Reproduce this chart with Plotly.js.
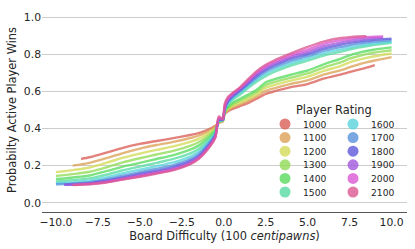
<!DOCTYPE html>
<html><head><meta charset="utf-8">
<script src="https://cdn.plot.ly/plotly-3.0.1.min.js"></script>
<style>html,body{margin:0;padding:0;background:#fff}</style>
</head><body><div id="chart" style="width:415px;height:249px"></div>
<script>
const ratings = [1000,1100,1200,1300,1400,1500,1600,1700,1800,1900,2000,2100];
const boardDifficulty = [-10,-9.5,-9,-8.5,-8,-7,-6,-5,-4,-3,-2,-1.5,-1,-0.5,-0.3,-0.05,0.05,0.25,0.5,1,1.5,2,2.5,3,4,5,6,7,7.5,8,8.5,9,9.5,10];
const win1000 = [null,null,null,.236,.245,.270,.296,.317,.333,.348,.365,.375,.392,.415,.430,.440,.478,.493,.505,.522,.540,.563,.587,.600,.623,.640,.670,.692,.705,.716,.728,.742,null,null];
const win1100 = [null,null,.200,.207,.215,.240,.268,.292,.311,.328,.349,.362,.382,.410,.432,.441,.481,.499,.513,.532,.552,.576,.603,.617,.641,.660,.692,.715,.731,.745,.757,.767,.776,.785];
const win1200 = [.165,.170,.176,.182,.190,.215,.243,.265,.285,.304,.328,.344,.369,.403,.434,.442,.484,.505,.521,.542,.563,.588,.620,.634,.658,.680,.712,.738,.757,.770,.781,.790,.798,.805];
const win1300 = [.145,.149,.154,.160,.167,.191,.218,.240,.260,.280,.307,.326,.356,.396,.436,.443,.487,.511,.529,.552,.574,.600,.635,.650,.674,.697,.730,.758,.777,.790,.801,.810,.816,.822];
const win1400 = [.128,.131,.136,.141,.147,.170,.195,.215,.236,.257,.286,.308,.343,.389,.438,.444,.490,.517,.537,.562,.585,.612,.650,.665,.690,.713,.748,.777,.795,.808,.818,.826,.832,.838];
const win1500 = [.115,.118,.122,.126,.131,.151,.175,.195,.215,.236,.266,.290,.330,.382,.440,.445,.493,.528,.552,.585,.622,.655,.682,.705,.740,.766,.795,.815,.826,.836,.844,.851,.857,.862];
const win1600 = [.105,.107,.110,.114,.119,.136,.159,.178,.197,.218,.249,.275,.318,.375,.442,.446,.496,.535,.560,.595,.632,.666,.694,.717,.753,.778,.807,.827,.837,.846,.853,.859,.864,.868];
const win1700 = [.100,.101,.104,.107,.111,.126,.146,.165,.183,.203,.235,.262,.308,.369,.445,.447,.500,.542,.567,.603,.641,.677,.706,.729,.765,.790,.820,.840,.850,.858,.864,.869,.873,.876];
const win1800 = [null,.097,.099,.102,.106,.119,.137,.155,.172,.192,.224,.251,.298,.363,.448,.448,.505,.549,.574,.610,.649,.687,.717,.740,.777,.802,.832,.853,.862,.869,.875,.879,.882,.885];
const win1900 = [null,.096,.097,.100,.103,.114,.131,.148,.165,.184,.216,.244,.291,.358,.452,.449,.510,.556,.580,.616,.656,.696,.727,.750,.787,.814,.845,.865,.873,.880,.885,.888,.890,null];
const win2000 = [null,null,.096,.099,.101,.111,.127,.143,.160,.179,.211,.239,.286,.354,.458,.450,.518,.563,.585,.621,.663,.704,.736,.759,.796,.826,.858,.877,.884,.890,.893,.895,.897,null];
const win2100 = [null,null,.095,.098,.100,.109,.125,.140,.157,.176,.208,.236,.283,.352,.465,.452,.530,.570,.590,.625,.670,.712,.744,.767,.805,.840,.870,.888,.893,.896,.898,null,null,null];
const series = [win1000,win1100,win1200,win1300,win1400,win1500,win1600,win1700,win1800,win1900,win2000,win2100];
const palette = ['#db5f57','#dba157','#d3db57','#91db57','#57db5f','#57dba1','#57d3db','#5791db','#5f57db','#a157db','#db57d3','#db5791'];

const traces = series.map((ys,i)=>({
  x: boardDifficulty, y: ys, mode:'lines', type:'scatter',
  line:{color:palette[i], width:2.4, shape:'spline', smoothing:0.6},
  opacity:0.78, showlegend:false, hoverinfo:'skip', connectgaps:false
}));
// legend swatches on a hidden overlay axis (column, row)
const legCol = ratings.map((r,i)=>Math.floor(i/6));
const legRow = ratings.map((r,i)=>i%6);
traces.push({
  x: legCol, y: legRow, xaxis:'x2', yaxis:'y2', mode:'markers', type:'scatter',
  marker:{size:11, color:palette, opacity:0.8}, showlegend:false, hoverinfo:'skip'
});
const annotations = ratings.map((r,i)=>({
  xref:'x2', yref:'y2', x:legCol[i]+0.24, y:legRow[i], text:String(r),
  xanchor:'left', yanchor:'middle', showarrow:false,
  font:{family:'DejaVu Sans', size:9.2, color:'#262626'}
}));
annotations.push({xref:'x2', yref:'y2', x:0.72, y:-1.03, text:'Player Rating',
  xanchor:'center', yanchor:'middle', showarrow:false,
  font:{family:'DejaVu Sans', size:11.4, color:'#262626'}});

const layout = {
  width:415, height:249,
  margin:{l:42, r:8, t:8, b:37},
  paper_bgcolor:'#fff', plot_bgcolor:'#fff',
  font:{family:'DejaVu Sans', size:11, color:'#262626'},
  showlegend:false,
  xaxis:{range:[-10.83,10.92], tick0:0, dtick:2.5, tickformat:'.1f', showgrid:false, zeroline:false,
    showline:true, linecolor:'#555', linewidth:1, ticks:'', tickfont:{size:10.8},
    title:{text:'Board Difficulty (100 <i>centipawns</i>)', font:{size:11.4}, standoff:2}},
  yaxis:{range:[-0.05,1.05], tick0:0, dtick:0.2, tickformat:'.1f', showgrid:true, gridcolor:'#cccccc', gridwidth:1,
    zeroline:false, showline:false, ticks:'', tickfont:{size:10.8},
    title:{text:'Probabilty Active Player Wins', font:{size:11.4}, standoff:4}},
  xaxis2:{overlaying:'x', range:[-3.574,1.794], visible:false},
  yaxis2:{overlaying:'y', range:[6.47,-8.53], visible:false},
  annotations: annotations
};
Plotly.newPlot('chart', traces, layout, {staticPlot:true});
</script></body></html>
